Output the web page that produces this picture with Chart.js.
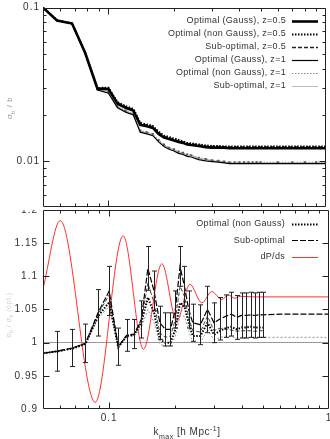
<!DOCTYPE html>
<html>
<head>
<meta charset="utf-8">
<script src="https://cdn.jsdelivr.net/npm/chart.js@4.4.1/dist/chart.umd.min.js"></script>
<style>
  html, body { margin: 0; padding: 0; background: #fff; overflow: hidden; }
  canvas { position: absolute; left: 0; }
  #topChart { top: 0; }
  #botChart { top: 210px; }
</style>
</head>
<body>
<canvas id="topChart" width="330" height="211"></canvas>
<canvas id="botChart" width="330" height="229"></canvas>
<script>
// k_max grid [h/Mpc]
const kVals = [0.05, 0.058, 0.068, 0.078, 0.089, 0.1, 0.11, 0.12, 0.13, 0.14, 0.15, 0.16, 0.17, 0.18, 0.19, 0.2,
  0.21, 0.22, 0.23, 0.24, 0.26, 0.28, 0.3, 0.32, 0.34, 0.36, 0.38, 0.4, 0.42, 0.44, 0.46, 0.48, 0.5,
  0.6, 0.7, 0.8, 0.9, 1.0];

// top panel: sigma_b / b
const optGaussZ05 = [0.100, 0.0824, 0.0787, 0.0509, 0.0296, 0.0294, 0.0236, 0.0222, 0.0213, 0.0172, 0.0168, 0.0164, 0.0150, 0.0142, 0.0139, 0.0136,
  0.0133, 0.0131, 0.0128, 0.0127, 0.0125, 0.0123, 0.0122, 0.0122, 0.0122, 0.0121, 0.0121, 0.0121, 0.0121, 0.0121, 0.0121, 0.0121, 0.0121,
  0.0121, 0.0121, 0.0121, 0.0121, 0.0121];
const optNonGaussZ05 = [0.100, 0.0826, 0.0789, 0.0512, 0.0299, 0.0300, 0.0242, 0.0227, 0.0219, 0.0177, 0.0173, 0.0169, 0.0155, 0.0146, 0.0143, 0.0140,
  0.0137, 0.0134, 0.0131, 0.0130, 0.0128, 0.0126, 0.0125, 0.0125, 0.0124, 0.0124, 0.0124, 0.0124, 0.0124, 0.0124, 0.0124, 0.0124, 0.0124,
  0.0124, 0.0124, 0.0124, 0.0124, 0.0124];
const subOptZ05 = [0.100, 0.0825, 0.0788, 0.0511, 0.0298, 0.0297, 0.0239, 0.0225, 0.0216, 0.0175, 0.0171, 0.0167, 0.0153, 0.0144, 0.0141, 0.0138,
  0.0135, 0.0133, 0.0130, 0.0129, 0.0127, 0.0125, 0.0124, 0.0124, 0.0123, 0.0123, 0.0123, 0.0123, 0.0123, 0.0123, 0.0123, 0.0123, 0.0123,
  0.0123, 0.0123, 0.0123, 0.0123, 0.0123];
const optGaussZ1 = [0.100, 0.0824, 0.0787, 0.0505, 0.0290, 0.0276, 0.0222, 0.0208, 0.0199, 0.0154, 0.0150, 0.0146, 0.0133, 0.0124, 0.0119, 0.0116,
  0.0112, 0.0110, 0.0107, 0.0106, 0.0102, 0.0100, 0.0099, 0.0098, 0.0097, 0.0096, 0.0096, 0.0096, 0.0096, 0.0096, 0.0096, 0.0096, 0.0096,
  0.0096, 0.0096, 0.0096, 0.0096, 0.0096];
const optNonGaussZ1 = [0.100, 0.0826, 0.0789, 0.0508, 0.0293, 0.0281, 0.0227, 0.0213, 0.0204, 0.0158, 0.0154, 0.0150, 0.0137, 0.0128, 0.0122, 0.0119,
  0.0115, 0.0113, 0.0110, 0.0109, 0.0105, 0.0103, 0.0101, 0.0100, 0.0099, 0.0098, 0.0098, 0.0098, 0.0098, 0.0098, 0.0098, 0.0098, 0.0098,
  0.0098, 0.0098, 0.0098, 0.0098, 0.0098];
const subOptZ1 = [0.100, 0.0825, 0.0788, 0.0507, 0.0292, 0.0279, 0.0225, 0.0211, 0.0202, 0.0156, 0.0152, 0.0148, 0.0135, 0.0126, 0.0121, 0.0118,
  0.0114, 0.0112, 0.0109, 0.0108, 0.0104, 0.0102, 0.0100, 0.0099, 0.0098, 0.0097, 0.0097, 0.0097, 0.0097, 0.0097, 0.0097, 0.0097, 0.0097,
  0.0097, 0.0097, 0.0097, 0.0097, 0.0097];

// bottom panel: ratios
const ratioSubZ05 = [0.984, 0.987, 0.992, 0.999, 1.045, 1.078, 0.994, 1.011, 1.013, 1.035, 1.112, 1.078, 1.030, 1.020, 1.020, 1.050,
  1.115, 1.085, 1.050, 1.030, 1.027, 1.050, 1.030, 1.036, 1.040, 1.043, 1.038, 1.041, 1.041, 1.042, 1.041, 1.042, 1.042,
  1.043, 1.043, 1.043, 1.043, 1.043];
const errSubZ05 = [null, 0.030, 0.028, 0.029, 0.035, 0.037, 0.028, 0.024, 0.022, 0.028, 0.033, 0.030, 0.025, 0.025, 0.025, 0.028,
  0.030, 0.030, 0.028, 0.028, 0.030, 0.035, 0.030, 0.032, 0.032, 0.033, 0.033, 0.034, 0.034, 0.034, 0.034, 0.034, 0.034,
  null, null, null, null, null];
const ratioNonGaussZ05 = [0.984, 0.987, 0.991, 0.998, 1.040, 1.061, 0.993, 1.010, 1.012, 1.030, 1.068, 1.045, 1.005, 1.000, 1.000, 1.020,
  1.060, 1.055, 1.030, 1.010, 1.010, 1.030, 1.012, 1.018, 1.022, 1.024, 1.020, 1.023, 1.023, 1.024, 1.023, 1.023, 1.023,
  null, null, null, null, null];
const ratioNonGaussZ1 = [0.984, 0.987, 0.991, 0.998, 1.036, 1.055, 0.993, 1.008, 1.010, 1.022, 1.050, 1.030, 0.998, 0.994, 0.995, 1.010,
  1.040, 1.040, 1.018, 1.000, 1.000, 1.020, 1.004, 1.008, 1.010, 1.009, 1.007, 1.008, 1.008, 1.008, 1.008, 1.008, 1.008,
  1.008, 1.008, 1.008, 1.008, 1.008];
const ratioSubZ1 = [0.984, 0.987, 0.992, 0.999, 1.043, 1.072, 0.994, 1.010, 1.012, 1.032, 1.090, 1.060, 1.015, 1.008, 1.010, 1.035,
  1.085, 1.070, 1.038, 1.018, 1.016, 1.040, 1.018, 1.022, 1.020, 1.019, 1.017, 1.018, 1.018, 1.018, 1.017, 1.018, 1.018,
  null, null, null, null, null];

// dP/ds (turning points of the red curve)
const kRed = [0.05, 0.0599, 0.0864, 0.1158, 0.1432, 0.1736, 0.203, 0.233, 0.264, 0.293, 0.325, 0.348, 0.373, 0.394, 0.45, 1.0];
const dPds = [1.081, 1.184, 0.910, 1.161, 0.990, 1.119, 1.033, 1.088, 1.060, 1.077, 1.065, 1.072, 1.067, 1.070, 1.069, 1.069];

// ticks
const xMajor = [0.1];
const xMinor = [0.06, 0.07, 0.08, 0.09, 0.2, 0.3, 0.4, 0.5, 0.6, 0.7, 0.8, 0.9];
const xLabelVals = [0.1, 1];
const xLabels = ['0.1', '1'];
const yTopLabelVals = [0.01, 0.1];
const yTopLabels = ['0.01', '0.1'];
const yTopMinor = [0.006, 0.007, 0.008, 0.009, 0.02, 0.03, 0.04, 0.05, 0.06, 0.07, 0.08, 0.09];
const yBotLabelVals = [0.9, 0.95, 1, 1.05, 1.1, 1.15, 1.2];
const yBotLabels = ['0.9', '0.95', '1', '1.05', '1.1', '1.15', '1.2'];

const pts = (ks, vs) => ks.map((k, i) => ({ x: k, y: vs[i] }));

Chart.defaults.font.family = "'Liberation Sans', Arial, sans-serif";
Chart.defaults.color = '#333';

const letterSpace = {
  id: 'letterSpace',
  beforeDraw(chart) { chart.ctx.letterSpacing = '1px'; }
};

const errorBars = {
  id: 'errorBars',
  afterDatasetsDraw(chart) {
    const { ctx, chartArea: a } = chart;
    const xs = chart.scales.x, ys = chart.scales.y;
    ctx.save();
    ctx.beginPath();
    ctx.rect(a.left, a.top, a.right - a.left, a.bottom - a.top);
    ctx.clip();
    ctx.strokeStyle = '#222';
    ctx.lineWidth = 1;
    ctx.setLineDash([]);
    ctx.beginPath();
    chart.data.datasets.forEach(ds => {
      if (!ds.errors) return;
      ds.data.forEach((p, i) => {
        const e = ds.errors[i];
        if (e == null || p.y == null) return;
        const px = Math.round(xs.getPixelForValue(p.x)) + 0.5;
        const y1 = ys.getPixelForValue(p.y + e), y2 = ys.getPixelForValue(p.y - e);
        ctx.moveTo(px, y1); ctx.lineTo(px, y2);
        ctx.moveTo(px - 2.5, y1); ctx.lineTo(px + 2.5, y1);
        ctx.moveTo(px - 2.5, y2); ctx.lineTo(px + 2.5, y2);
      });
    });
    ctx.stroke();
    ctx.restore();
  }
};

// gnuplot style box with inward ticks
const frameTicks = {
  id: 'frameTicks',
  afterDatasetsDraw(chart, args, o) {
    const { ctx, chartArea: a } = chart;
    const xs = chart.scales.x, ys = chart.scales.y;
    const L = Math.round(a.left) + 0.5, R = Math.round(a.right) - 0.5;
    const T = Math.round(a.top) + 0.5, B = Math.round(a.bottom) - 0.5;
    ctx.save();
    ctx.strokeStyle = '#222';
    ctx.lineWidth = 1;
    ctx.setLineDash([]);
    ctx.beginPath();
    ctx.rect(L, T, R - L, B - T);
    const tick = (vals, len, isX) => vals.forEach(v => {
      if (isX) {
        const p = Math.round(xs.getPixelForValue(v)) + 0.5;
        ctx.moveTo(p, B); ctx.lineTo(p, B - len);
        ctx.moveTo(p, T); ctx.lineTo(p, T + len);
      } else {
        const p = Math.round(ys.getPixelForValue(v)) + 0.5;
        ctx.moveTo(L, p); ctx.lineTo(L + len, p);
        ctx.moveTo(R, p); ctx.lineTo(R - len, p);
      }
    });
    tick(o.xMajor, 6, true);
    tick(o.xMinor, 3, true);
    tick(o.yMajor, 6, false);
    tick(o.yMinor, 3, false);
    ctx.stroke();
    ctx.restore();
  }
};

const boxLegend = {
  id: 'boxLegend',
  afterDraw(chart, args, o) {
    const ctx = chart.ctx;
    ctx.save();
    ctx.letterSpacing = '0.3px';
    ctx.font = "9px 'Liberation Sans', Arial, sans-serif";
    ctx.fillStyle = '#333';
    ctx.textAlign = 'right';
    ctx.textBaseline = 'middle';
    let y = o.top;
    chart.data.datasets.forEach(ds => {
      if (!ds.label) return;
      ctx.fillText(ds.label, o.textRight, y);
      ctx.beginPath();
      ctx.setLineDash(ds.borderDash || []);
      ctx.lineWidth = ds.borderWidth;
      ctx.strokeStyle = ds.borderColor;
      ctx.moveTo(o.x0, Math.round(y) + 0.5);
      ctx.lineTo(o.x1, Math.round(y) + 0.5);
      ctx.stroke();
      y += o.step;
    });
    ctx.restore();
  }
};

function drawRich(ctx, segs, x, y, size, color, rot) {
  ctx.save();
  ctx.translate(x, y);
  if (rot) ctx.rotate(rot);
  ctx.letterSpacing = '0.5px';
  ctx.fillStyle = color;
  ctx.textAlign = 'left';
  ctx.textBaseline = 'alphabetic';
  const fontOf = s => ((s.sub || s.sup) ? size * 0.7 : size) + "px 'Liberation Sans', Arial, sans-serif";
  let total = 0;
  segs.forEach(s => { ctx.font = fontOf(s); total += ctx.measureText(s.t).width; });
  let cx = -total / 2;
  segs.forEach(s => {
    ctx.font = fontOf(s);
    const dy = s.sub ? size * 0.35 : (s.sup ? -size * 0.45 : 0);
    ctx.fillText(s.t, cx, dy);
    cx += ctx.measureText(s.t).width;
  });
  ctx.restore();
}

const axisTexts = {
  id: 'axisTexts',
  afterDraw(chart, args, o) {
    (o.items || []).forEach(it => drawRich(chart.ctx, it.segs, it.x, it.y, it.size, it.color, it.rot));
  }
};

const line = (label, ks, vs, style) => Object.assign({
  label, data: pts(ks, vs), borderColor: '#000', borderWidth: 1, pointRadius: 0,
  tension: 0, fill: false, spanGaps: false
}, style);

new Chart(document.getElementById('topChart'), {
  type: 'line',
  data: {
    datasets: [
      line('Optimal (Gauss), z=0.5', kVals, optGaussZ05, { borderWidth: 2.6 }),
      line('Optimal (non Gauss), z=0.5', kVals, optNonGaussZ05, { borderWidth: 2, borderDash: [1.5, 1.5] }),
      line('Sub-optimal, z=0.5', kVals, subOptZ05, { borderWidth: 1.5, borderDash: [4, 2], borderColor: '#222' }),
      line('Optimal (Gauss), z=1', kVals, optGaussZ1, { borderWidth: 1.2 }),
      line('Optimal (non Gauss), z=1', kVals, optNonGaussZ1, { borderColor: '#888', borderDash: [1.5, 1.5],
        pointRadius: 1.4, pointStyle: 'rect', pointBackgroundColor: '#555', pointBorderWidth: 0 }),
      line('Sub-optimal, z=1', kVals, subOptZ1, { borderColor: '#bbb' })
    ]
  },
  options: {
    responsive: false,
    devicePixelRatio: 1,
    animation: false,
    layout: { padding: { top: 7.6, right: 1, left: 0, bottom: 0 } },
    plugins: {
      legend: { display: false },
      tooltip: { enabled: false },
      frameTicks: { xMajor, xMinor, yMajor: yTopLabelVals, yMinor: yTopMinor },
      boxLegend: { top: 20.5, step: 13, textRight: 286, x0: 292, x1: 318 },
      axisTexts: { items: [{ segs: [{ t: 'σ' }, { t: 'b', sub: true }, { t: ' / b' }], x: 12, y: 108, size: 8, color: '#999', rot: -Math.PI / 2 }] }
    },
    scales: {
      x: { type: 'logarithmic', min: 0.05, max: 1, display: false },
      y: {
        type: 'logarithmic', min: 0.005, max: 0.1,
        grid: { display: false, drawTicks: false },
        border: { display: false },
        ticks: { padding: 3, font: { size: 10 }, color: '#333',
          callback: v => yTopLabels[yTopLabelVals.indexOf(v)] || '' },
        afterBuildTicks: s => { s.ticks = yTopLabelVals.map(v => ({ value: v })); },
        afterFit: s => { s.width = 43; s.paddingTop = 0; s.paddingBottom = 0; }
      }
    }
  },
  plugins: [letterSpace, frameTicks, boxLegend, axisTexts]
});

new Chart(document.getElementById('botChart'), {
  type: 'line',
  data: {
    datasets: [
      line('Optimal (non Gauss)', kVals, ratioNonGaussZ05, { borderWidth: 2, borderDash: [1.5, 1.5] }),
      line('Sub-optimal', kVals, ratioSubZ05, { borderWidth: 1.2, borderDash: [6, 2], errors: errSubZ05 }),
      line('dP/ds', kRed, dPds, { borderColor: '#ff3030', cubicInterpolationMode: 'monotone' }),
      line(undefined, kVals, ratioNonGaussZ1, { borderColor: '#999', borderDash: [2, 2] }),
      line(undefined, kVals, ratioSubZ1, { borderColor: '#444', borderDash: [4, 2] })
    ]
  },
  options: {
    responsive: false,
    devicePixelRatio: 1,
    animation: false,
    layout: { padding: { top: 0, right: 1, left: 0, bottom: 0 } },
    plugins: {
      legend: { display: false },
      tooltip: { enabled: false },
      frameTicks: { xMajor, xMinor, yMajor: [0.95, 1, 1.05, 1.1, 1.15], yMinor: [] },
      boxLegend: { top: 14, step: 16.3, textRight: 285, x0: 292, x1: 318 },
      axisTexts: { items: [
        { segs: [{ t: 'k' }, { t: 'max', sub: true }, { t: ' [h Mpc' }, { t: '-1', sup: true }, { t: ']' }], x: 187, y: 225, size: 10, color: '#333' },
        { segs: [{ t: 'σ' }, { t: 'b', sub: true }, { t: ' / σ' }, { t: 'b', sub: true }, { t: ' (opt.)' }], x: 11, y: 105, size: 7, color: '#d0d0d0', rot: -Math.PI / 2 }
      ] }
    },
    scales: {
      x: {
        type: 'logarithmic', min: 0.05, max: 1,
        grid: { display: false, drawTicks: false },
        border: { display: false },
        ticks: { padding: 3, font: { size: 10 }, color: '#333', maxRotation: 0,
          callback: v => xLabels[xLabelVals.indexOf(v)] || '' },
        afterBuildTicks: s => { s.ticks = xLabelVals.map(v => ({ value: v })); },
        afterFit: s => { s.height = 30; s.paddingLeft = 0; s.paddingRight = 0; }
      },
      y: {
        type: 'linear', min: 0.9, max: 1.2,
        grid: { drawTicks: false, lineWidth: 1,
          color: c => (c.tick && c.tick.value === 1) ? '#999' : 'rgba(0,0,0,0)' },
        border: { display: false },
        ticks: { padding: 5, font: { size: 10 }, color: '#333',
          callback: v => yBotLabels[yBotLabelVals.indexOf(v)] || '' },
        afterBuildTicks: s => { s.ticks = yBotLabelVals.map(v => ({ value: v })); },
        afterFit: s => { s.width = 43; s.paddingTop = 0; s.paddingBottom = 0; }
      }
    }
  },
  plugins: [letterSpace, errorBars, frameTicks, boxLegend, axisTexts]
});
</script>
</body>
</html>
